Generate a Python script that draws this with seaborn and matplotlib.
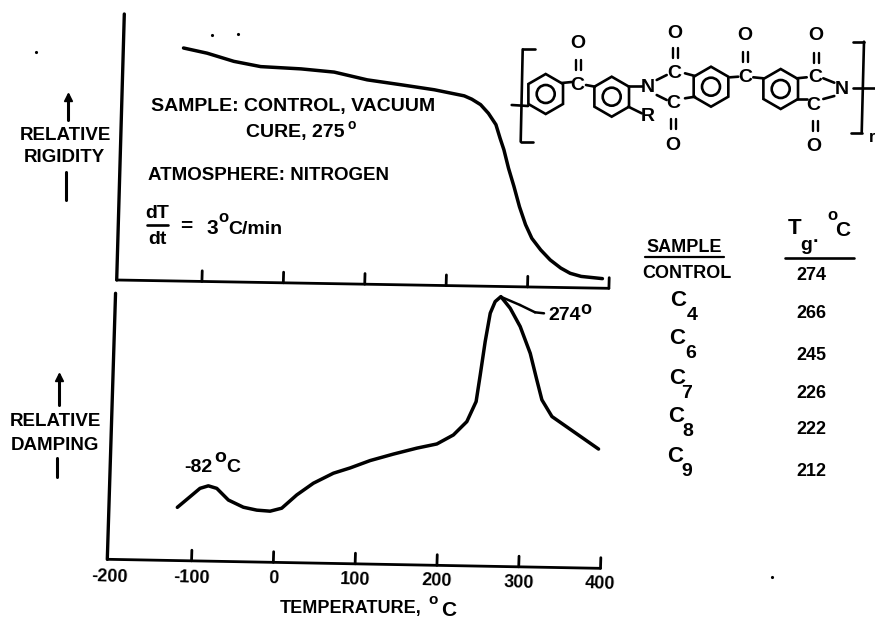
import numpy as np
import pandas as pd
import seaborn as sns
import matplotlib.pyplot as plt
from matplotlib.patches import Circle, RegularPolygon
from matplotlib.transforms import Affine2D

sns.set_theme(style="white")
plt.rcParams["font.family"] = ["Liberation Sans", "DejaVu Sans"]
plt.rcParams["font.weight"] = "bold"

# values
rigidity_temp = [-130.8, -101.6, -68.5, -35.4, 14.2, 55.1, 95.9, 136.8, 178.6, 215.6, 225, 236, 245.9, 255.5, 261.1,
                 266.2, 272.5, 279.8, 287.3, 295.4, 303.6, 314.9, 326.9, 340.2, 351.9, 365.5, 391.7]
rigidity_val = [87.6, 85.8, 82.9, 81.1, 80.5, 79.5, 76.8, 75.2, 73.5, 71.4, 70.2, 68.2, 65, 60.8, 55.7,
                51.4, 44.5, 37.7, 30.1, 23.4, 18.3, 14, 10.3, 7.3, 5.4, 4.3, 3.6]

damping_temp = [-119.4, -104.2, -92.4, -82.3, -71.9, -57.3, -38.7, -22.2, -5.9, 8.2, 26.1, 45.9, 70, 90.3, 114.4,
                142.6, 171.1, 195.3, 215.2, 231.1, 241.7, 245.7, 250.5, 255.6, 261.2, 268, 279.8, 292.7, 306, 315,
                322, 334.9, 361.8, 393.1]
damping_val = [20, 24.1, 27.3, 28.3, 27.4, 23.1, 20.5, 19.5, 19.2, 20.4, 25.5, 30, 33.9, 36, 38.9,
               41.5, 43.9, 45.6, 49.1, 54.2, 61.8, 71.8, 84.4, 95.1, 99.5, 101.4, 97.1, 90.3, 80.3, 70.4,
               62.9, 56.7, 51.2, 44.8]

tick_temps = [-100, 0, 100, 200, 300, 400]
tick_labels = ["-200", "-100", "0", "100", "200", "300", "400"]

sample_names = ["4", "6", "7", "8", "9"]
tg_values = [274, 266, 245, 226, 222, 212]

W, H = 875, 621
fig = plt.figure(figsize=(W / 100, H / 100), dpi=100)


def px_axes(left, top, right, bottom):
    a = fig.add_axes([left / W, 1 - bottom / H, (right - left) / W, (bottom - top) / H])
    a.patch.set_alpha(0)
    sns.despine(ax=a, left=True, bottom=True, right=True, top=True)
    return a


def skew_for(a, cx, cy, sx, sy):
    # the page was scanned slightly crooked
    return a.transData + Affine2D.from_values(1, sy, sx, 1, -sx * (H - cy), -sy * cx)


def draw_panel(a, tr, xmin, xmax, temps, vals):
    df = pd.DataFrame({"temp": temps, "val": vals})
    sns.lineplot(data=df, x="temp", y="val", ax=a, color="black", lw=2.5, sort=False, estimator=None,
                 errorbar=None, transform=tr, clip_on=False, solid_joinstyle="round", solid_capstyle="round")
    a.plot([xmin, xmax], [0, 0], color="black", lw=2, transform=tr, clip_on=False)
    a.plot([xmin, xmin], [0, 100], color="black", lw=2.4, transform=tr, clip_on=False)
    for t in tick_temps:
        a.plot([t, t], [0, 4], color="black", lw=2, transform=tr, clip_on=False)
    a.set_xlim(xmin, xmax)
    a.set_ylim(0, 100)
    a.set_xlabel("")
    a.set_ylabel("")
    a.set_yticks([])


# top panel
ax1 = px_axes(116.7, 14, 608.9, 280)
tr1 = skew_for(ax1, 116.7, 280, 0.0286, -0.0169)
draw_panel(ax1, tr1, -204.7, 400, rigidity_temp, rigidity_val)
ax1.set_xticks([])

# bottom panel
ax2 = px_axes(107.3, 293.3, 600.5, 559.3)
tr2 = skew_for(ax2, 107.3, 559.3, 0.031, -0.0183)
draw_panel(ax2, tr2, -203, 400, damping_temp, damping_val)
ax2.set_xticks([-200] + tick_temps)
ax2.set_xticklabels(tick_labels, fontsize=13, rotation=-2, color="black")
ax2.tick_params(axis="x", length=0)
for t, tick in zip([-200] + tick_temps, ax2.xaxis.get_major_ticks()):
    tick.set_pad(6.3 + (t + 200) * 0.008)

# overlay in page pixels for the labels and the structure
ov = fig.add_axes([0, 0, 1, 1], zorder=5)
ov.set_xlim(0, W)
ov.set_ylim(H, 0)
ov.axis("off")
ov.patch.set_alpha(0)


def txt(x, y, s, size=14, ha="center"):
    ov.text(x, y, s, fontsize=size, ha=ha, va="center", color="black")


def seg(x0, y0, x1, y1, lw=1.9):
    ov.plot([x0, x1], [y0, y1], color="black", lw=lw, solid_capstyle="round")


def up_arrow(x, y0, y1):
    seg(x, y0, x, y1, lw=2.2)
    ov.plot([x], [y0 + 2], marker="^", ms=6, color="black")


# left labels
up_arrow(68, 95, 120)
txt(65, 136, "RELATIVE", size=13.5)
txt(64, 157, "RIGIDITY", size=13.5)
seg(65.7, 172, 65.7, 200, lw=2.2)
up_arrow(59.3, 375, 405)
txt(55, 421, "RELATIVE", size=13.5)
txt(55, 445, "DAMPING", size=13.5)
seg(57.3, 458, 57.3, 477, lw=2.2)

# notes in the top panel
txt(151, 107, "SAMPLE: CONTROL, VACUUM", ha="left")
txt(246, 132, "CURE, 275", ha="left")
txt(352, 125, "o", size=10)
txt(148, 175, "ATMOSPHERE: NITROGEN", ha="left", size=13.5)
txt(157, 214, "dT")
seg(147, 225, 168, 225)
txt(157, 240, "dt")
txt(180, 226, "=", size=15, ha="left")
txt(212, 228, "3", size=15)
txt(223, 218, "o", size=12)
txt(228, 229, "C/min", size=14, ha="left")

# curve labels
txt(198, 468, "-82")
txt(220, 458, "o", size=14)
txt(233, 468, "C")
txt(565, 315, "274")
txt(586, 309, "o", size=13)
seg(500.7, 296.7, 520, 305, lw=1.8)
seg(520, 305, 535, 312.3, lw=1.8)
seg(535, 312.3, 544, 313.3, lw=1.8)
txt(351, 608, "TEMPERATURE,", size=13)
txt(433, 600, "o", size=11)
txt(449, 610, "C", size=15)

# table
txt(684, 247, "SAMPLE", size=13)
seg(645, 257, 724, 257, lw=1.6)
txt(687, 273, "CONTROL", size=13)
c_pos = [(678, 300), (677, 338), (677, 378), (676, 417), (675, 457)]
sub_pos = [(692, 315), (691, 353), (687, 393), (688, 432), (687, 472)]
for name, cp, sp in zip(sample_names, c_pos, sub_pos):
    txt(cp[0], cp[1], "C", size=16)
    txt(sp[0], sp[1], name, size=14)
tg_y = [275, 313, 355, 393, 430, 472]
for v, y in zip(tg_values, tg_y):
    txt(811, y, str(v), size=13)
txt(795, 228, "T", size=16)
txt(806, 245, "g", size=14)
txt(815, 238, ".", size=14)
txt(832, 216, "o", size=12)
txt(843, 230, "C", size=15)
seg(785, 258, 854, 258, lw=1.9)

# polymer repeat unit
for cx, cy in [(545.7, 94), (611.7, 96.7), (711, 86.7), (780.7, 89)]:
    ov.add_patch(RegularPolygon((cx, cy), 6, radius=20, fill=False, ec="black", lw=1.9))
    ov.add_patch(Circle((cx, cy), 9, fill=False, ec="black", lw=1.9))

bonds = [(511.7, 105, 528, 106), (561.7, 83, 571.7, 82), (586, 85, 595, 86.7), (628.3, 86, 641.7, 86),
         (628.3, 106.7, 641.7, 113.3), (656.7, 80, 666.7, 75), (656.7, 95, 666.7, 100), (685, 73.3, 695, 76),
         (685, 98.3, 695, 96.7), (730, 77.3, 738.3, 76.7), (753.3, 77.3, 763.3, 78.3), (796.7, 78.3, 806.7, 77.3),
         (796.7, 99.3, 806.7, 99.3), (823.3, 78.3, 834.3, 82.7), (823.3, 99, 834.3, 96), (853.3, 88.3, 875, 88.3),
         (535, 49.3, 522.7, 49.3), (522.7, 49.3, 520.7, 141.7), (520.7, 141.7, 533.3, 141.7),
         (853.3, 41.7, 864, 41.7), (864, 41.7, 861.7, 132.7), (861.7, 132.7, 850.7, 132.7)]
for b in bonds:
    seg(*b)

for x, y in [(578, 65), (675, 53), (673.3, 124), (745.7, 56.7), (816.7, 58.3), (815, 126)]:
    seg(x - 2.5, y - 5, x - 2.5, y + 5, lw=1.7)
    seg(x + 2.5, y - 5, x + 2.5, y + 5, lw=1.7)

atoms = [(577.3, 85, "C"), (578.3, 44, "O"), (648.3, 87.3, "N"), (647.3, 116.7, "R"), (674.3, 74, "C"),
         (673.3, 103.3, "C"), (675, 33, "O"), (673.3, 145, "O"), (745, 77.3, "C"), (745, 35.7, "O"),
         (815, 77.3, "C"), (813.3, 106, "C"), (816, 36, "O"), (814, 146.7, "O"), (841.7, 89.3, "N")]
for x, y, s in atoms:
    txt(x, y, s, size=14)
txt(871.7, 137, "r", size=12)

# specks on the scan
ov.plot([212, 238, 36, 772], [35, 34, 52, 577], ".", color="black", ms=2.5)

fig.savefig("out.png", dpi=100)
